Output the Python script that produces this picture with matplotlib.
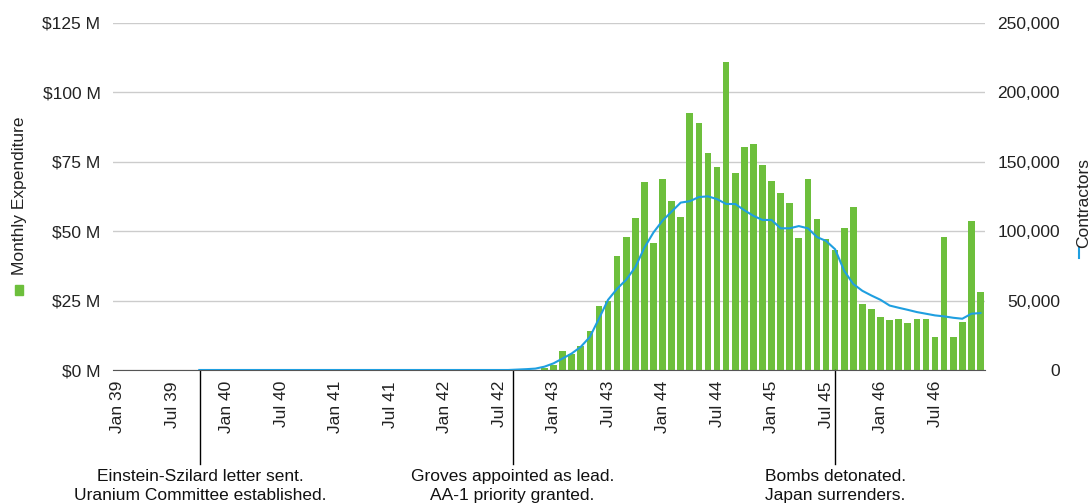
import numpy as np
import matplotlib.pyplot as plt
from matplotlib.patches import Rectangle
from matplotlib.lines import Line2D

plt.rcParams['font.family'] = ['Liberation Sans', 'DejaVu Sans']
plt.rcParams['font.size'] = 12.5

# Monthly categories, Jan 39 .. Dec 46
n_months = 96
tick_labels = ['Jan 39', 'Jul 39', 'Jan 40', 'Jul 40', 'Jan 41', 'Jul 41',
               'Jan 42', 'Jul 42', 'Jan 43', 'Jul 43', 'Jan 44', 'Jul 44',
               'Jan 45', 'Jul 45', 'Jan 46', 'Jul 46']

# Monthly expenditure ($M), first month with spending = Dec 42 (index 47)
spend_start = 47
expenditure = [0.7, 1.8, 6.7, 5.8, 8.6, 14.2, 23.0, 24.9, 41.0, 48.0,
               54.6, 67.7, 45.6, 68.8, 61.0, 54.9, 92.4, 88.8, 78.1, 73.2,
               110.9, 70.8, 80.4, 81.5, 73.8, 67.9, 63.7, 60.0, 47.4, 68.7,
               54.3, 47.0, 43.2, 51.0, 58.6, 23.8, 21.9, 18.9, 17.9, 18.5,
               16.8, 18.2, 18.5, 11.8, 48.0, 11.8, 17.1, 53.8, 28.2]

# Contractors (thousands), series starts Oct 39 (index 9)
contr_start = 9
contractors = [0] * 35 + [
    0.3, 0.6, 1.0, 2.4, 4.8, 8.3, 11.9, 16.7, 23.8, 37.0,
    50.5, 58.5, 65.0, 74.0, 88.0, 99.0, 107.5, 114.0, 120.5, 121.5,
    124.5, 125.0, 123.0, 119.5, 119.5, 115.0, 111.0, 108.0, 108.0, 102.0,
    102.0, 103.6, 102.0, 95.7, 92.9, 86.9, 71.4, 61.9, 57.0, 53.6,
    50.5, 46.4, 44.8, 43.3, 41.7, 40.5, 39.3, 38.6, 37.6, 36.9,
    40.5, 41.0]

events = [9.1, 43.5, 79.0]
event_text = ['Einstein-Szilard letter sent.\nUranium Committee established.',
              'Groves appointed as lead.\nAA-1 priority granted.',
              'Bombs detonated.\nJapan surrenders.']

green = '#6dbf3c'
blue = '#1f9fe0'

W, H = 1092, 504
fig = plt.figure(figsize=(W / 100, H / 100), dpi=100)
ax = fig.add_axes([113 / W, 134 / H, 872 / W, 347.3 / H])

x_spend = np.arange(spend_start, spend_start + len(expenditure))
ax.bar(x_spend, expenditure, width=0.74, color=green, zorder=2)

ax.set_xlim(-0.5, n_months - 0.5)
ax.set_ylim(0, 125)
ax.set_yticks(np.arange(0, 126, 25))
ax.set_yticklabels([f'${v} M' for v in range(0, 126, 25)])
ax.set_xticks(np.arange(0, n_months, 6))
ax.set_xticklabels(tick_labels, rotation=90)
ax.tick_params(axis='y', length=0, pad=9, colors='#222222')
ax.tick_params(axis='x', length=0, pad=8, colors='#222222')
ax.grid(axis='y', color='#cccccc', lw=1, zorder=0)
for s in ['top', 'left', 'right']:
    ax.spines[s].set_visible(False)
ax.spines['bottom'].set_color('#555555')
ax.spines['bottom'].set_zorder(3)

ax2 = ax.twinx()
x_con = np.arange(contr_start, contr_start + len(contractors))
ax2.plot(x_con, np.array(contractors) * 1000, color=blue, lw=1.5, zorder=3)
ax2.set_ylim(0, 250000)
ax2.set_yticks(np.arange(0, 250001, 50000))
ax2.set_yticklabels([f'{v:,}' for v in range(0, 250001, 50000)])
ax2.tick_params(axis='y', length=0, pad=54, colors='#222222')
for lab in ax2.get_yticklabels():
    lab.set_horizontalalignment('right')
for s in ax2.spines.values():
    s.set_visible(False)

# event markers below the axis
tr = ax.get_xaxis_transform()
for ev, txt in zip(events, event_text):
    ax.plot([ev, ev], [0, -0.272], color='black', lw=1, transform=tr, clip_on=False)
    ax.text(ev, -0.333, txt, transform=tr, ha='center', va='center',
            linespacing=1.35, color='#111111')

# axis titles with legend keys
fig.text(20 / W, 1 - 196 / H, 'Monthly Expenditure', rotation=90,
         ha='center', va='center', color='#222222')
fig.patches.append(Rectangle((15 / W, 1 - 295 / H), 8 / W, 10 / H,
                             transform=fig.transFigure, color=green))
fig.text(1084 / W, 1 - 203 / H, 'Contractors', rotation=90,
         ha='center', va='center', color='#222222')
fig.lines.append(Line2D([1078.5 / W, 1078.5 / W], [1 - 248 / H, 1 - 258 / H],
                        transform=fig.transFigure, color=blue, lw=1.5))

fig.savefig('out.png', dpi=100)
